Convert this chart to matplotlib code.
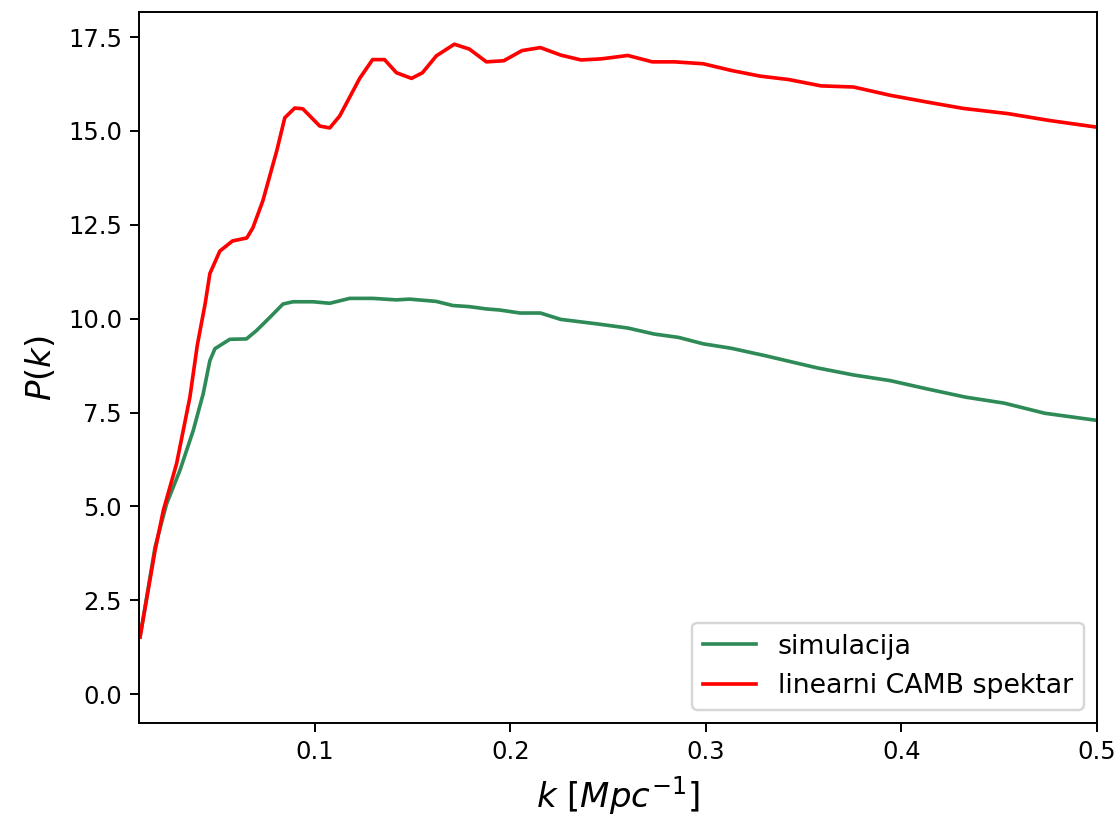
import matplotlib
matplotlib.use("Agg")
import matplotlib.pyplot as plt

k_sim = [0.0107, 0.0184, 0.0243, 0.0311, 0.0379, 0.0430, 0.0464, 0.0490, 0.0566,
         0.0651, 0.0702, 0.0770, 0.0838, 0.0889, 0.0991, 0.1077, 0.1179, 0.1298,
         0.1417, 0.1485, 0.1621, 0.1706, 0.1791, 0.1876, 0.1946, 0.2050, 0.2154,
         0.2258, 0.2445, 0.2601, 0.2736, 0.2861, 0.2986, 0.3131, 0.3298, 0.3568,
         0.3755, 0.3942, 0.4130, 0.4327, 0.4525, 0.4733, 0.5000]
p_sim = [1.52, 3.92, 5.07, 5.96, 7.02, 8.00, 8.88, 9.20, 9.45,
         9.46, 9.68, 10.03, 10.39, 10.45, 10.45, 10.41, 10.54, 10.54,
         10.50, 10.52, 10.46, 10.35, 10.32, 10.26, 10.23, 10.15, 10.15,
         9.98, 9.86, 9.75, 9.59, 9.50, 9.33, 9.21, 9.02, 8.69,
         8.50, 8.35, 8.13, 7.91, 7.75, 7.48, 7.29]

k_camb = [0.0107, 0.0184, 0.0226, 0.0294, 0.0362, 0.0400, 0.0440, 0.0464, 0.0515,
          0.0580, 0.0653, 0.0684, 0.0735, 0.0806, 0.0847, 0.0898, 0.0939, 0.1026,
          0.1077, 0.1128, 0.1230, 0.1296, 0.1357, 0.1418, 0.1495, 0.1551, 0.1622,
          0.1714, 0.1791, 0.1878, 0.1967, 0.2060, 0.2154, 0.2258, 0.2362, 0.2466,
          0.2601, 0.2726, 0.2840, 0.2986, 0.3131, 0.3277, 0.3422, 0.3589, 0.3755,
          0.3942, 0.4130, 0.4316, 0.4546, 0.4754, 0.5000]
p_camb = [1.52, 3.83, 4.89, 6.14, 7.91, 9.30, 10.40, 11.20, 11.80,
          12.07, 12.15, 12.42, 13.14, 14.47, 15.35, 15.61, 15.59, 15.13,
          15.08, 15.40, 16.40, 16.90, 16.90, 16.55, 16.40, 16.55, 17.00,
          17.31, 17.18, 16.84, 16.87, 17.14, 17.22, 17.02, 16.89, 16.92,
          17.01, 16.84, 16.84, 16.79, 16.61, 16.46, 16.37, 16.20, 16.17,
          15.95, 15.77, 15.60, 15.46, 15.28, 15.10]

x_ticks = [0.1, 0.2, 0.3, 0.4, 0.5]
y_ticks = [0.0, 2.5, 5.0, 7.5, 10.0, 12.5, 15.0, 17.5]

fig = plt.figure(figsize=(1116 / 175, 820 / 175), dpi=175)
ax = fig.add_axes([0.1246, 0.1183, 0.983 - 0.1246, 0.985 - 0.1183])

ax.plot(k_sim, p_sim, color="seagreen", lw=1.5, label="simulacija")
ax.plot(k_camb, p_camb, color="red", lw=1.5, label="linearni CAMB spektar")

ax.set_xlim(0.0102, 0.5)
ax.set_ylim(-0.77, 18.16)
ax.set_xticks(x_ticks)
ax.set_xticklabels([f"{v:g}" for v in x_ticks])
ax.set_yticks(y_ticks)
ax.set_yticklabels([f"{v:.1f}" for v in y_ticks])
ax.tick_params(labelsize=10)

ax.set_xlabel(r"$k\ [Mpc^{-1}]$", fontsize=14)
ax.set_ylabel(r"$P(k)$", fontsize=14)
ax.legend(loc="lower right", fontsize=11)

fig.savefig("out.png", dpi=175)
